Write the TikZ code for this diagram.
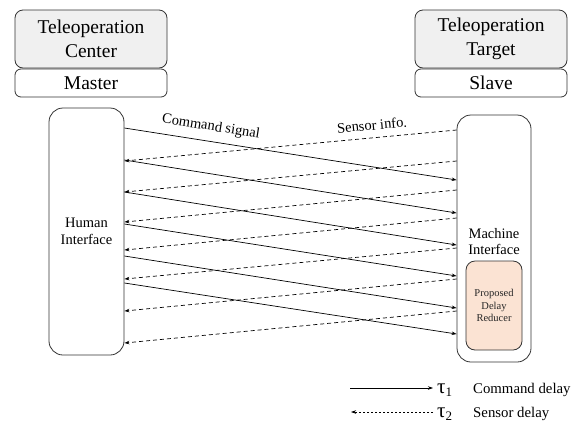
\documentclass[tikz,border=0pt]{standalone}
\usepackage{fontspec}
\setmainfont{Liberation Serif}
\usetikzlibrary{arrows.meta}
\definecolor{peach}{HTML}{FBE3D3}
\definecolor{boxgray}{HTML}{F0F0F0}
\definecolor{edge}{HTML}{333333}
\begin{document}
\begin{tikzpicture}[x=1pt,y=-1pt,
  topbox/.style={draw=edge, fill=boxgray, rounded corners=8pt, minimum width=152pt, minimum height=58pt,
    align=center, font=\fontsize{19.5}{24}\selectfont, inner sep=0pt, line width=0.8pt},
  subbox/.style={draw=edge, rounded corners=6pt, minimum width=152pt, minimum height=28pt,
    font=\fontsize{19.5}{22}\selectfont, inner sep=0pt, line width=0.8pt},
  ifbox/.style={draw=edge, rounded corners=14pt, minimum width=75pt, minimum height=247pt,
    align=center, font=\fontsize{14.5}{16.7}\selectfont, inner sep=0pt, line width=0.8pt},
  pdrbox/.style={draw=edge, fill=peach, rounded corners=9pt, minimum width=56pt, minimum height=89pt,
    align=center, font=\fontsize{10.5}{12.5}\selectfont, text=black!85, inner sep=0pt, line width=0.8pt},
  cmd/.style={line width=0.7pt, -{Stealth[length=5pt,width=3.5pt]}},
  sens/.style={line width=0.7pt, dashed, dash pattern=on 4pt off 3pt, -{Stealth[length=5pt,width=3.5pt]}},
  lbl/.style={font=\fontsize{14.5}{16}\selectfont, inner sep=0pt},
  tau/.style={font=\fontsize{21}{21}\selectfont, inner sep=0pt, anchor=base west},
  leg/.style={font=\fontsize{14.8}{16}\selectfont, inner sep=0pt, anchor=base west}
]
\useasboundingbox (0,0) rectangle (578,424);

% top boxes
\node[topbox] (TC) at (91,39) {Teleoperation\\Center};
\node[subbox] (M) at (91,83) {Master};
\node[topbox] (TT) at (491,39) {Teleoperation\\Target};
\node[subbox] (S) at (491,83) {Slave};

% interfaces
\node[ifbox] (HI) at (86.5,231.5) {Human\\Interface};
\node[ifbox, minimum width=74pt] (MI) at (494,238.5) {};
\node[font=\fontsize{14.5}{16.7}\selectfont, align=center, inner sep=0pt] (MItxt) at (494,241.5) {Machine\\Interface};
\node[pdrbox] (PDR) at (494,305.5) {Proposed\\Delay\\Reducer};

% command signals (left -> right)
\foreach \i/\a/\b in {1/128/180, 2/160/213, 3/192/245, 4/224/276, 5/256/308, 6/283/334} {
  \coordinate (c\i s) at (HI.east |- 0,\a);
  \coordinate (c\i e) at (MI.west |- 0,\b);
  \draw[cmd] (c\i s) -- (c\i e);
}
% sensor info (right -> left)
\foreach \i/\a/\b in {1/130/161, 2/161/192, 3/190/222, 4/218/250, 5/248/279, 6/279/311, 7/311/343} {
  \coordinate (s\i s) at (MI.west |- 0,\a);
  \coordinate (s\i e) at (HI.east |- 0,\b);
  \draw[sens] (s\i s) -- (s\i e);
}

% line labels
\node[lbl, rotate=-8.9] (cmdlbl) at (211,127) {Command signal};
\node[lbl, rotate=5.3] (senlbl) at (372,125) {Sensor info.};

% legend
\coordinate (l1a) at (350,388);
\coordinate (l1b) at (433,388);
\draw[cmd] (l1a) -- (l1b);
\node[tau] (t1) at (437,393) {τ\raisebox{-3pt}{\fontsize{13}{13}\selectfont 1}};
\node[leg] (t1txt) at (473,393) {Command delay};
\coordinate (l2a) at (433,412);
\coordinate (l2b) at (351,412);
\draw[sens, dash pattern=on 2.2pt off 1.8pt] (l2a) -- (l2b);
\node[tau] (t2) at (437,417) {τ\raisebox{-3pt}{\fontsize{13}{13}\selectfont 2}};
\node[leg] (t2txt) at (473,417) {Sensor delay};
\end{tikzpicture}
\end{document}
